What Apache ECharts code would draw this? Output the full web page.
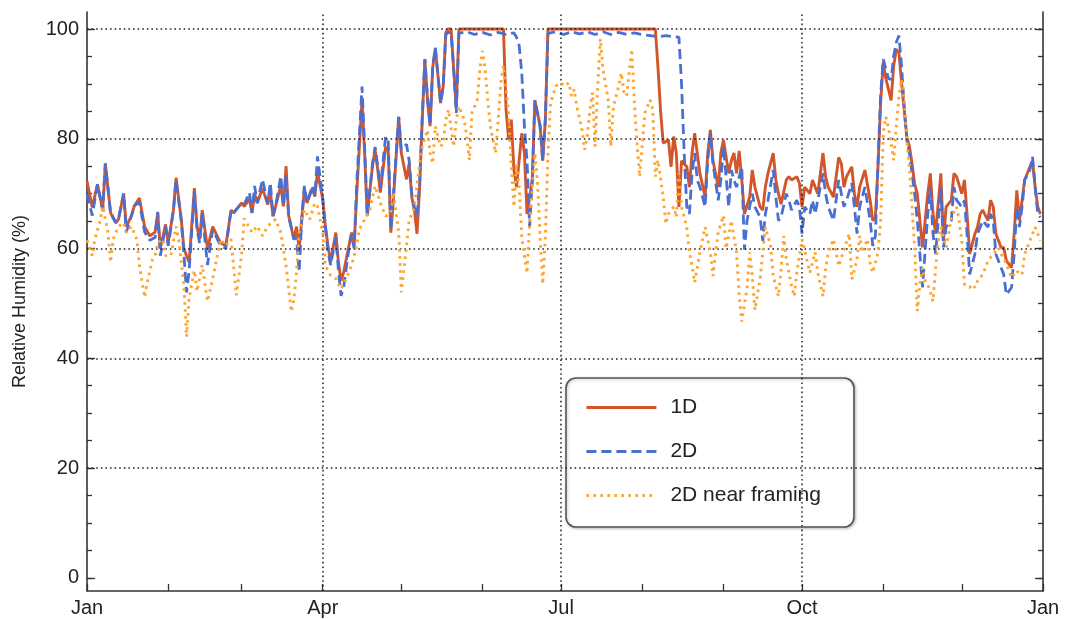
<!DOCTYPE html>
<html>
<head>
<meta charset="utf-8">
<script src="https://cdn.jsdelivr.net/npm/echarts@6/dist/echarts.min.js"></script>
<style>
  html, body { margin: 0; padding: 0; background: #ffffff; }
  #chart { width: 1065px; height: 619px; }
</style>
</head>
<body>
<div id="chart"></div>
<script>
// Daily relative humidity (%) over one year, as [day of year, value]
const rh1D = [
  [0,72.3],[2,67.5],[4,71.7],[6,67],[7,75.5],[9,66.5],[11,64.7],[12,65.3],[14,70],[15,64],[17,66],[18,67.7],[20,69.2],[22,64],[24,62.3],[26,63],[27,66.5],[28,60],[30,64.4],[31,61],[33,67],[34,72.9],[36,65.3],[37,60],[38,58.7],[39,57.5],[41,71],[42,64],[43,61.7],[44,67],[46,60],[48,64],[49,63],[51,61],[53,60.5],[55,67],[56,66.5],[59,68.3],
  [60,67.7],[62,69],[63,66.5],[64,70],[65,68.3],[67,71],[69,68],[70,70.5],[71,65.9],[72,67.7],[74,71.5],[75,67.7],[76,75],[77,66],[79,61.7],[80,64],[81,60],[82,65.3],[83,71],[84,68.3],[86,71],[87,69.5],[88,74],[90,69],[91,64.1],[92,60.5],[93,57.5],[95,62.9],[96,57.5],[97,54.1],[98,55.7],[100,60.5],[101,62.9],[102,60.5],[103,70.2],[105,87],[106,77.4],[107,65.9],[109,75],[110,78],[111,74.4],[112,70.2],[114,78.5],[115,78],[116,62.9],[117,69],[119,84],[120,77.4],
  [122,72.6],[123,75.5],[124,69.4],[125,67],[126,62.7],[127,71.2],[128,83.5],[129,94.5],[130,87],[131,82.3],[132,93],[133,96.5],[135,86.5],[136,89.6],[137,99.4],[138,100],[139,100],[140,92.7],[141,85.5],[142,100],[159,100],[160,85.3],[161,79.8],[162,83.5],[163,74.3],[164,71.2],[166,81],[167,77.4],[168,66.3],[170,72.5],[171,87],[173,82.3],[174,76],[175,83.5],[176,100],
  [217,100],[218,93],[219,85],[220,79.2],[222,79.8],[223,74.9],[224,80.4],[225,77.4],[226,67.6],[227,76],[229,74.9],[230,71.2],[231,77.4],[232,81],[233,77.4],[234,73.7],[236,69.4],[237,77.4],[238,81.6],[239,76],[241,71.2],[242,77.4],[243,79.8],
  [245,73.7],[246,76],[247,77.4],[248,73.7],[249,77.8],[250,72.5],[251,66.3],[253,69.4],[254,74.3],[255,71.2],[257,67.6],[258,67],[259,71.2],[260,73.7],[262,77.4],[263,72.5],[264,70],[265,68.1],[267,72.5],[268,73.1],[269,72.5],[271,73.1],[272,71.9],[273,67.6],[274,71.2],[276,70],[277,72.5],[278,71.2],[279,70],[281,77.4],[282,73.1],[283,71.2],[285,69.4],[287,76.6],[288,75.5],[289,71.2],[290,73.1],[292,74.9],[293,70],[294,67.6],[295,71.2],[297,74.3],[299,68.8],[300,65.1],[301,65.7],[302,74.9],[303,86.5],
  [304,94],[305,91],[306,89],[307,87],[308,93.3],[309,96.3],[310,95.7],[311,90.2],[312,85.3],[313,80.4],[314,78.6],[315,75.5],[316,71.8],[317,70],[318,65.1],[319,60.2],[321,70],[322,73.7],[323,66.3],[324,62.7],[326,73.7],[327,61.4],[328,67.6],[330,68.8],[331,73.7],[332,73.1],[334,70],[335,72.5],[336,66.3],[337,59],[339,62.7],[340,63.9],[341,66.3],[342,67],[344,65.1],[345,68.8],[346,67.6],[347,62.7],[349,60.2],[350,60.2],[351,57.8],[353,56.5],[354,62.7],[355,70.6],[356,65.1],[357,68.8],[358,72.5],[360,74.9],[361,76],[362,71.2],[363,67.6],[364,66.3]
];

const rh2D = [
  [0,70],[2,66],[4,71.7],[6,67],[7,75.5],[9,66.5],[11,64.7],[12,65.3],[14,70],[15,63],[17,66],[18,67.7],[20,68.5],[22,63],[24,61.5],[26,62],[27,66.7],[28,58.7],[30,64],[31,60.5],[33,67],[34,72.5],[36,65],[37,59],[38,52],[39,56],[41,70.5],[42,63.5],[43,61],[44,66.5],[46,57],[48,63.5],[49,62.5],[51,60.5],[53,60],[55,67],[56,66.5],[59,68.3],
  [60,68],[62,70.2],[63,66.5],[64,71.4],[65,68.3],[67,72.6],[69,68.3],[70,72],[71,65.9],[72,67.7],[74,73.2],[75,67.7],[76,73.5],[77,65.9],[79,61.7],[80,62],[81,55.7],[82,65.3],[83,71.4],[84,68.3],[86,71.4],[87,69.5],[88,76.8],[90,69],[91,64.1],[92,59.5],[93,57],[95,62],[96,56],[97,51.4],[98,53],[100,60],[101,62.5],[102,60],[103,72],[105,89.5],[106,78.5],[107,66],[109,75.5],[110,78.5],[111,75],[112,71],[114,80.4],[115,79.8],[116,63.5],[117,70],[119,84],[120,78],
  [122,79],[123,76],[124,70],[125,67.5],[126,66],[127,72],[128,84],[129,94.5],[130,87.5],[131,82.5],[132,93.3],[133,96.6],[135,86.5],[136,89.6],[137,99],[138,99.4],[139,99.3],[140,92.7],[141,84.7],[142,99.2],[145,99.5],[148,99],[151,99.4],[154,98.9],[157,99.4],[160,99],[163,99.3],[164,98.5],[165,97],[166,92],[167,82.3],[168,76],[169,64],[170,72.5],[171,87],[173,82.3],[174,76],[175,83.5],
  [176,99.2],[179,99.5],[182,99],[185,99.5],[188,99.1],[191,99.5],[194,99],[197,99.5],[200,99],[203,99.4],[206,99],[209,99.3],[212,99],[215,98.8],[218,98.6],[221,98.8],[224,98.6],[226,98.5],[227,90],[228,77.4],[229,67.6],[230,66.3],[231,73.7],[232,77.4],[233,72.5],[234,71.2],[236,67.6],[237,76],[238,80.9],[239,75.5],[241,68.8],[242,72.5],[243,78.6],
  [245,67.6],[246,74.3],[247,72.5],[248,71.2],[250,74.9],[251,59.8],[252,65.1],[253,67.6],[254,70],[255,67.6],[257,65.7],[258,61.4],[259,66.3],[260,68.8],[262,74.3],[263,69.4],[264,65.1],[265,65.7],[267,70],[268,68.8],[269,67],[271,68.8],[272,67.6],[273,62.7],[274,67.6],[276,66.3],[277,68.8],[278,66.3],[279,68.8],[281,73.7],[282,70],[283,67.6],[285,65.1],[287,72.5],[288,70],[289,67.6],[290,68.8],[292,71.9],[293,67.6],[294,62.7],[295,67.6],[297,71.2],[299,65.1],[300,60.5],[301,62.3],[302,75.5],[303,88],
  [304,94.5],[306,91],[307,90.8],[308,95.1],[309,97.6],[310,98.8],[311,93.3],[312,85.9],[313,79.8],[314,77.4],[315,73.7],[316,70],[317,65.1],[318,59],[319,52.9],[321,66.3],[322,71.2],[323,62.7],[324,59],[326,71.2],[327,60.2],[328,63.9],[330,65.1],[331,71.2],[332,68.8],[334,67.6],[335,68.8],[336,62.7],[337,55.3],[339,59],[340,62.7],[341,63.9],[342,65.1],[344,63.9],[345,66.3],[346,65.1],[347,59],[349,56.5],[350,55.3],[351,51.6],[353,52.9],[354,59],[355,67.6],[356,63.9],[357,67.6],[358,72.5],[360,74.3],[361,76.7],[362,71.2],[363,66.3],[364,65.7]
];

const rh2DNear = [
  [0,61.5],[2,58.7],[3,61.7],[5,65],[6,67.7],[8,63],[9,57.5],[10,61.7],[12,64],[14,64.7],[15,62.9],[17,64],[19,61.7],[20,57],[22,51.1],[23,53.8],[25,58],[26,58.7],[27,61.1],[29,61.7],[30,58.7],[32,58.7],[34,64],[35,61.7],[37,53.3],[38,43.9],[39,51],[41,56],[42,52.2],[44,57],[46,50.4],[48,54.5],[50,59.3],[51,61.7],[53,60.5],[55,61.7],[57,51.5],[59,58.7],
  [60,65.5],[63,62.9],[65,64.1],[67,62.3],[69,64.1],[72,65.3],[74,62.9],[76,56.9],[78,48.5],[79,50.8],[80,55.7],[81,62.9],[83,67.1],[85,65.3],[87,68.3],[88,67.7],[90,62.9],[91,56.9],[93,55.1],[95,54.5],[97,52.6],[99,54.5],[101,56.9],[103,60.5],[104,63.5],[106,65.3],[108,67.1],[110,71.4],[112,68.3],[114,65.9],[116,66.5],[117,70.2],[119,62.9],[120,52],
  [122,60.5],[123,65.1],[125,67.6],[127,75.5],[128,78.6],[130,81.6],[131,77.4],[132,75.5],[133,82.3],[135,78.6],[136,79.2],[137,83.5],[138,85.3],[140,78.6],[141,83.5],[142,85.9],[144,83.5],[145,80.4],[146,76.1],[147,84.7],[149,87.1],[150,92.7],[151,96],[152,92.7],[153,87.1],[154,82.3],[156,77.4],[157,83.5],[158,90.2],[159,93.3],[161,84.7],[162,74.9],[163,67.6],[164,75.5],[165,71.2],[166,62],[168,55.5],[169,65.1],[170,71.2],[171,77.4],[172,72],[173,62],[174,53.5],[175,62],[176,77.4],[177,86.5],[179,89.6],[181,90.2],
  [182,89.6],[184,90.2],[185,87.8],[186,89],[187,85.9],[189,81.6],[190,78],[191,80.4],[192,85.3],[193,88.4],[194,78.6],[195,89.6],[196,98.2],[197,92.7],[199,87.1],[200,78.6],[201,85.9],[203,89.6],[204,92],[205,88.4],[206,87.8],[208,96.3],[209,86.5],[210,79.2],[211,73.1],[213,84.7],[215,87.1],[216,85.3],[217,73.1],[218,76.1],[220,69.4],[221,64.5],[222,66.3],[224,67.6],[225,65.7],[226,73.7],[227,67.6],[229,63.9],[230,59.3],[231,56.8],[232,53.8],[234,59.3],[235,61.7],[236,63.9],[238,59.3],[239,55],[240,59.3],[241,63],[243,66],
  [244,60],[245,62.3],[246,65.1],[248,59.3],[249,51.5],[250,46.7],[252,52.8],[253,59.3],[254,55],[255,48.8],[257,54.4],[258,59.3],[259,63.9],[261,60.5],[262,55],[264,51.3],[265,56.2],[266,62.3],[267,58],[269,53.2],[270,51.3],[271,55.6],[273,61.7],[274,59.8],[276,55.6],[278,59.3],[279,55.6],[281,51.3],[282,56.2],[283,59.3],[285,61.7],[286,59.3],[287,56.8],[289,59.8],[291,62.7],[292,54.4],[294,58],[295,62.3],[296,59.3],[298,61.7],[299,57.3],[300,55.6],[302,59.3],[303,65.1],
  [304,81],[305,84],[306,82],[307,79.2],[308,76.1],[309,82.3],[310,87.8],[311,90.8],[312,87.1],[313,79.8],[314,74.9],[315,67.6],[316,60],[317,48.6],[318,53.5],[319,56.5],[320,54.1],[321,53.5],[323,50.4],[324,56.5],[325,61.4],[326,63.9],[328,60.2],[329,62.7],[330,65.7],[332,67.6],[333,65.1],[334,61.4],[335,53.5],[337,52.9],[338,53.5],[339,52.9],[340,54.1],[342,55.3],[343,56.5],[344,57.8],[346,59],[347,59.6],[348,60.2],[349,59],[351,57.2],[352,56],[353,54.7],[355,56],[356,55.3],[357,55.3],[358,59],[360,61.4],[361,62.7],[362,63.9],[363,62.7],[364,61.4]
];

const seriesNames = ['1D', '2D', '2D near framing'];

// Axis ticks and labels (x in day of year)
const monthStartDays = [0, 31, 59, 90, 120, 151, 181, 212, 243, 273, 304, 334, 365];
const monthLabelDays = [0, 90, 181, 273, 365];
const monthLabelNames = ['Jan', 'Apr', 'Jul', 'Oct', 'Jan'];
const xGridDays = [90, 181, 273];
const yMajorValues = [0, 20, 40, 60, 80, 100];
const yMinorValues = [0, 5, 10, 15, 20, 25, 30, 35, 40, 45, 50, 55, 60, 65, 70, 75, 80, 85, 90, 95, 100];
const yGridValues = [20, 40, 60, 80, 100];

const FONT = '"Liberation Sans", Arial, sans-serif';
const AXIS_COLOR = '#333333';
const Y_MIN = -2.4, Y_MAX = 103.1;

function yAxisPart(position, ticks, tickLen, withLine, withLabels) {
  return {
    type: 'value', min: Y_MIN, max: Y_MAX, position: position,
    axisLine: { show: withLine, onZero: false, lineStyle: { color: AXIS_COLOR, width: 1.6 } },
    axisTick: { show: true, inside: true, length: tickLen, customValues: ticks,
                lineStyle: { color: AXIS_COLOR, width: 1.3 } },
    axisLabel: withLabels
      ? { show: true, customValues: yMajorValues, fontSize: 20, color: '#222', fontFamily: FONT, margin: 8 }
      : { show: false },
    splitLine: { show: false }
  };
}

const yAxes = [
  yAxisPart('left', yMajorValues, 8, true, true),
  yAxisPart('left', yMinorValues, 5, false, false),
  yAxisPart('right', yMajorValues, 8, true, false),
  yAxisPart('right', yMinorValues, 5, false, false)
];
Object.assign(yAxes[0], {
  name: 'Relative Humidity (%)',
  nameLocation: 'middle',
  nameGap: 58,
  nameTextStyle: { fontSize: 18, color: '#222', fontFamily: FONT }
});

const chart = echarts.init(document.getElementById('chart'), null, { renderer: 'canvas' });

chart.setOption({
  animation: false,
  backgroundColor: '#ffffff',
  textStyle: { fontFamily: FONT },
  grid: { left: 87, right: 22, top: 12, bottom: 28, containLabel: false },
  xAxis: {
    type: 'value', min: 0, max: 365,
    axisLine: { show: true, onZero: false, lineStyle: { color: AXIS_COLOR, width: 1.6 } },
    axisTick: { show: true, inside: true, length: 7, customValues: monthStartDays,
                lineStyle: { color: AXIS_COLOR, width: 1.3 } },
    axisLabel: {
      show: true, customValues: monthLabelDays,
      formatter: v => monthLabelNames[monthLabelDays.indexOf(Math.round(v))],
      showMinLabel: true, showMaxLabel: true,
      fontSize: 20, color: '#222', fontFamily: FONT, margin: 7
    },
    splitLine: { show: false }
  },
  yAxis: yAxes,
  legend: {
    data: seriesNames,
    orient: 'vertical',
    left: 566, top: 378,
    itemWidth: 70, itemHeight: 22, itemGap: 23,
    padding: [19, 33, 21, 19],
    backgroundColor: '#ffffff',
    borderColor: '#555555', borderWidth: 1.6, borderRadius: 10,
    shadowColor: 'rgba(0,0,0,0.25)', shadowBlur: 3, shadowOffsetX: 1, shadowOffsetY: 1,
    selectedMode: false,
    itemStyle: { opacity: 0, borderWidth: 0 },
    lineStyle: { width: 2.8 },
    textStyle: { fontSize: 21, color: '#222', fontFamily: FONT, padding: [0, 0, 0, 9] }
  },
  series: [
    {
      // dotted reference grid behind the data
      type: 'line', data: [], z: 1, silent: true,
      markLine: {
        silent: true, symbol: 'none', animation: false,
        label: { show: false },
        lineStyle: { color: '#222', type: [1.6, 3], width: 1.5 },
        data: yGridValues.map(v => ({ yAxis: v })).concat(xGridDays.map(d => ({ xAxis: d })))
      }
    },
    {
      name: seriesNames[0], type: 'line', data: rh1D, z: 3,
      symbol: 'none', showSymbol: false, color: '#D2562C',
      lineStyle: { color: '#D2562C', width: 2.9 }
    },
    {
      name: seriesNames[1], type: 'line', data: rh2D, z: 4,
      symbol: 'none', showSymbol: false, color: '#4A6FD3',
      lineStyle: { color: '#4A6FD3', width: 2.8, type: [10, 5] }
    },
    {
      name: seriesNames[2], type: 'line', data: rh2DNear, z: 5,
      symbol: 'none', showSymbol: false, color: '#FFA52E',
      lineStyle: { color: '#FFA52E', width: 2.9, type: [2.6, 4.4] }
    }
  ]
});
</script>
</body>
</html>
